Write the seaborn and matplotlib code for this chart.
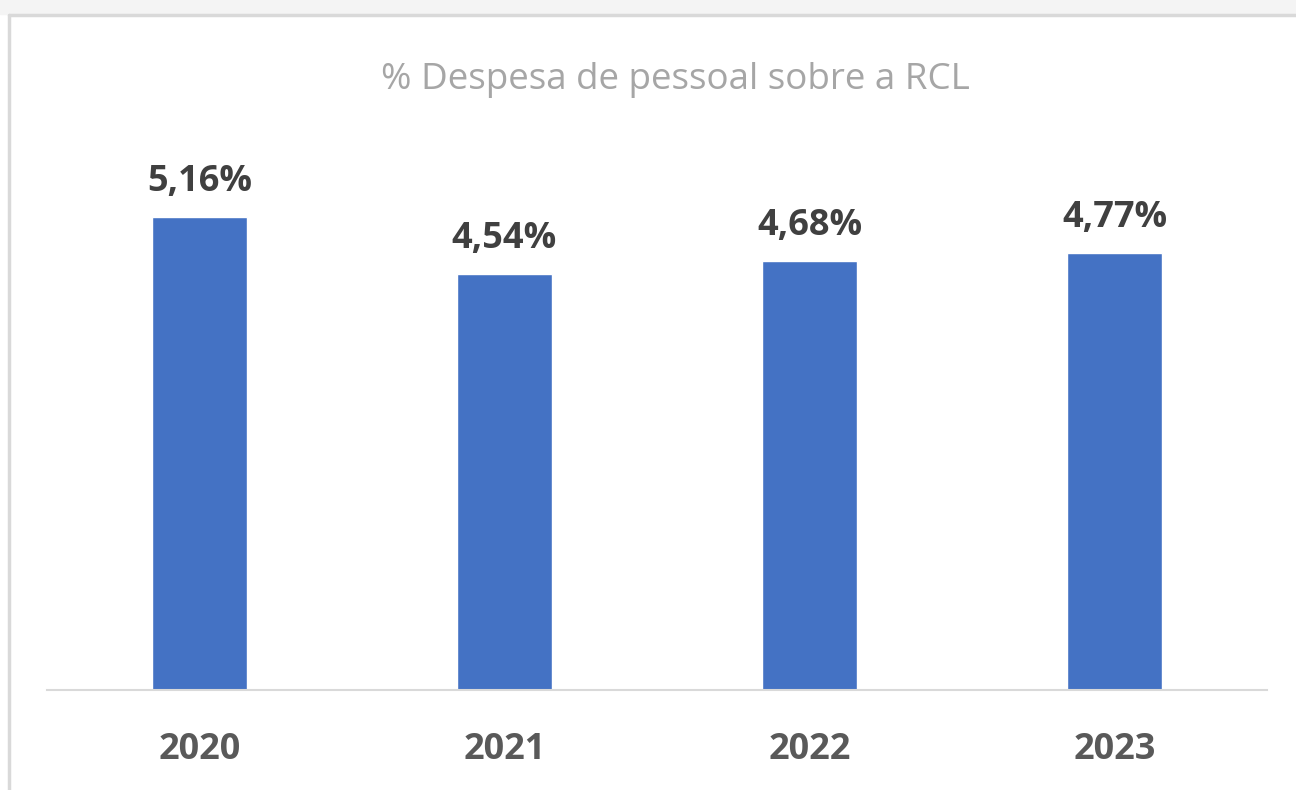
import pandas as pd
import matplotlib.pyplot as plt
import seaborn as sns
from matplotlib.patches import Rectangle
from matplotlib.lines import Line2D

anos = ["2020", "2021", "2022", "2023"]
valores = [5.16, 4.54, 4.68, 4.77]
titulo = "% Despesa de pessoal sobre a RCL"

df = pd.DataFrame({"ano": anos, "valor": valores})

sns.set_theme(style="white")
plt.rcParams['font.family'] = ['Open Sans', 'DejaVu Sans']

fig = plt.figure(figsize=(12.96, 7.9), dpi=100)
ax = fig.add_axes([47 / 1296, 100 / 790, 1220 / 1296, 550 / 790])

sns.barplot(data=df, x="ano", y="valor", color="#4472c4", width=0.31,
            saturation=1, ax=ax)

ax.set_ylim(0, 6)
ax.set_xlim(-0.5, 3.5)
for lado in ["top", "right", "left"]:
    ax.spines[lado].set_visible(False)
ax.spines["bottom"].set_color("#d9d9d9")
ax.spines["bottom"].set_linewidth(1.5)
ax.set_yticks([])
ax.set_xlabel("")
ax.set_ylabel("")
ax.tick_params(axis="x", length=0, pad=30, labelsize=26, labelcolor="#595959")
for t in ax.get_xticklabels():
    t.set_fontweight("bold")

for i, v in enumerate(valores):
    ax.annotate(f"{v:.2f}%".replace(".", ","), (i, v), xytext=(0, 12),
                textcoords="offset points", ha="center", va="bottom",
                fontsize=26, fontweight="bold", color="#404040")

fig.text(675 / 1296, 1 - 80 / 790, titulo, ha="center", va="center",
         fontsize=26.5, color="#a6a6a6")

# moldura cinza do print
fig.patches.append(Rectangle((0, 1 - 14 / 790), 1, 14 / 790,
                             transform=fig.transFigure, color="#f4f4f4", zorder=0))
fig.lines.append(Line2D([9 / 1296, 1], [1 - 15 / 790, 1 - 15 / 790],
                        transform=fig.transFigure, color="#d9d9d9", lw=2.5))
fig.lines.append(Line2D([9 / 1296, 9 / 1296], [0, 1 - 15 / 790],
                        transform=fig.transFigure, color="#d9d9d9", lw=2.5))

fig.savefig("out.png", dpi=100)
